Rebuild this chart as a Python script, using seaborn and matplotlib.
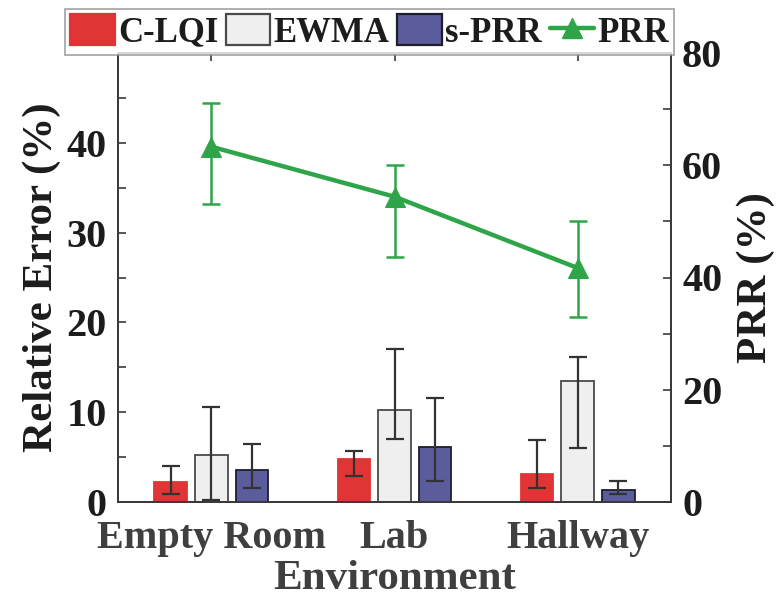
import numpy as np
import pandas as pd
import matplotlib
matplotlib.use("Agg")
import matplotlib.pyplot as plt
from matplotlib.patches import Patch
from matplotlib.lines import Line2D
from matplotlib.ticker import MultipleLocator
import seaborn as sns

# ---- data -------------------------------------------------------------
environments = ["Empty Room", "Lab", "Hallway"]
methods = ["C-LQI", "EWMA", "s-PRR"]

clqi_mean = [2.26, 4.74, 3.08]
clqi_low = [0.94, 2.93, 1.54]
clqi_high = [3.98, 5.68, 6.88]

ewma_mean = [5.26, 10.26, 13.46]
ewma_low = [0.19, 6.99, 5.98]
ewma_high = [10.56, 17.0, 16.1]

sprr_mean = [3.61, 6.13, 1.32]
sprr_low = [1.54, 2.37, 0.86]
sprr_high = [6.5, 11.58, 2.37]

prr_mean = [63.3, 54.4, 41.7]
prr_low = [53.1, 43.7, 33.0]
prr_high = [71.1, 60.1, 50.0]

# ---- style ------------------------------------------------------------
sns.set_style("ticks")
plt.rcParams["font.family"] = ["Liberation Serif", "DejaVu Serif"]
plt.rcParams["font.weight"] = "bold"
plt.rcParams["axes.labelweight"] = "bold"

bar_colors = ["#E13434", "#EEEFEE", "#5B5C9C"]
edge_colors = ["#E13434", "#4A4A4A", "#1E1E2A"]
prr_color = "#2FA54A"
err_color = "#333333"
spine_color = "#3a3a3a"
text_dark = "#1c1c1c"
text_grey = "#3f3f3f"

means = [clqi_mean, ewma_mean, sprr_mean]
lows = [clqi_low, ewma_low, sprr_low]
highs = [clqi_high, ewma_high, sprr_high]

df = pd.DataFrame({
    "Environment": np.repeat([environments], len(methods), axis=0).ravel(),
    "Method": np.repeat(methods, len(environments)),
    "Error": np.concatenate(means),
})

fig = plt.figure(figsize=(7.77, 6.03), dpi=100)
ax = fig.add_axes([118 / 777, 1 - 502 / 603, (671 - 118) / 777, (502 - 53) / 603])

sns.barplot(data=df, x="Environment", y="Error", hue="Method",
            hue_order=methods, order=environments, palette=bar_colors,
            width=0.667, gap=0.2, errorbar=None, legend=False, ax=ax,
            linewidth=1.3, saturation=1)

for cont, ec, m, lo, hi in zip(ax.containers, edge_colors, means, lows, highs):
    xs = []
    for bar in cont:
        bar.set_edgecolor(ec)
        xs.append(bar.get_x() + bar.get_width() / 2)
    m = np.asarray(m)
    yerr = [m - np.asarray(lo), np.asarray(hi) - m]
    ax.errorbar(xs, m, yerr=yerr, fmt="none", ecolor=err_color,
                elinewidth=1.6, capsize=6.5, capthick=1.6, zorder=5)

ax.set_xlim(-0.51, 2.51)
ax.set_ylim(0, 50)
ax.yaxis.set_major_locator(plt.FixedLocator([0, 10, 20, 30, 40]))
ax.yaxis.set_minor_locator(plt.FixedLocator([5, 15, 25, 35, 45]))
ax.set_ylabel("Relative Error (%)", fontsize=31, color=text_dark, labelpad=4)
ax.set_xlabel("Environment", fontsize=31, color=text_grey, labelpad=2)
ax.tick_params(axis="y", which="both", direction="in", length=6, width=1.2,
               colors=spine_color, labelcolor=text_dark, labelsize=29, pad=8,
               right=False)
ax.tick_params(axis="x", which="both", direction="in", length=6, width=1.2,
               colors=spine_color, labelcolor=text_grey, labelsize=29, pad=13,
               top=True)
for sp in ax.spines.values():
    sp.set_visible(True)
    sp.set_color(spine_color)
    sp.set_linewidth(1.3)

# ---- PRR on the right axis -------------------------------------------
ax2 = ax.twinx()
xpos = np.arange(len(environments))
sns.lineplot(x=xpos, y=prr_mean, ax=ax2, color=prr_color, linewidth=3.2,
             marker="^", markersize=14, markeredgecolor=prr_color, zorder=4)
pm = np.asarray(prr_mean)
ax2.errorbar(xpos, pm, yerr=[pm - np.asarray(prr_low), np.asarray(prr_high) - pm],
             fmt="none", ecolor=prr_color, elinewidth=1.8, capsize=6.5,
             capthick=1.8, zorder=3)
ax2.set_ylim(0, 80)
ax2.yaxis.set_major_locator(MultipleLocator(20))
ax2.yaxis.set_minor_locator(MultipleLocator(10))
ax2.set_ylabel("PRR (%)", fontsize=31, color=text_dark, labelpad=10)
ax2.tick_params(axis="y", which="both", direction="in", length=6, width=1.2,
                colors=spine_color, labelcolor=text_dark, labelsize=29, pad=8)
for sp in ax2.spines.values():
    sp.set_color(spine_color)
    sp.set_linewidth(1.3)
ax.set_xlim(-0.51, 2.51)

# ---- legend -----------------------------------------------------------
handles = [Patch(facecolor=bar_colors[i], edgecolor=edge_colors[i], linewidth=1.6)
           for i in range(len(methods))]
handles.append(Line2D([], [], color=prr_color, linewidth=3.2, marker="^",
                      markersize=14))
leg = fig.legend(handles, methods + ["PRR"], loc="upper left",
                 bbox_to_anchor=(65 / 777, 1 - 9 / 603), ncol=4,
                 fontsize=25, frameon=True, fancybox=False, borderpad=0.15,
                 handlelength=1.28, handleheight=1.0, handletextpad=0.1,
                 columnspacing=0.22, borderaxespad=0.0)
leg.get_frame().set_edgecolor("#8a8a8a")
leg.get_frame().set_linewidth(1.2)
for t in leg.get_texts():
    t.set_color(text_dark)

fig.savefig("out.png", dpi=100)
